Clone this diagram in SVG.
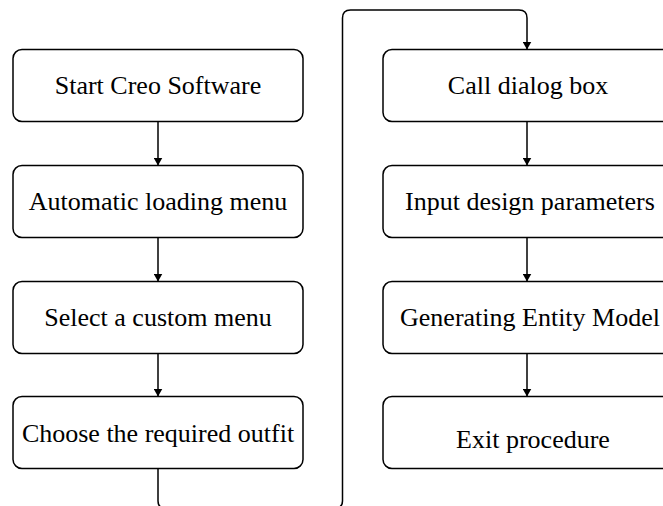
<svg xmlns="http://www.w3.org/2000/svg" width="663" height="506" viewBox="0 0 663 506">
  <style>
    .box { fill: #ffffff; stroke: #000000; stroke-width: 1.5; }
    .label { font-family: "Liberation Serif", "Times New Roman", serif; font-size: 26px; fill: #000000; text-anchor: middle; }
    .edge { fill: none; stroke: #000000; stroke-width: 1.5; }
  </style>
  <defs>
    <marker id="arrow" viewBox="0 0 8 9" refX="8" refY="4.5" markerWidth="8" markerHeight="9" markerUnits="userSpaceOnUse" orient="auto">
      <path d="M0,0 L8,4.5 L0,9 Z" fill="#000000"/>
    </marker>
  </defs>
  <rect width="663" height="506" fill="#ffffff"/>

  <!-- left column -->
  <g id="start">
    <rect class="box" x="13" y="49.5" width="290" height="72" rx="9"/>
    <text class="label" x="158" y="93.5">Start Creo Software</text>
  </g>
  <g id="autoload">
    <rect class="box" x="13" y="165.5" width="290" height="72" rx="9"/>
    <text class="label" x="158" y="209.5">Automatic loading menu</text>
  </g>
  <g id="custom-menu">
    <rect class="box" x="13" y="281.5" width="290" height="72" rx="9"/>
    <text class="label" x="158" y="325.5">Select a custom menu</text>
  </g>
  <g id="outfit">
    <rect class="box" x="13" y="396.5" width="290" height="72" rx="9"/>
    <text class="label" x="158" y="441.5">Choose the required outfit</text>
  </g>

  <!-- right column -->
  <g id="dialog">
    <rect class="box" x="383" y="49.5" width="290" height="72" rx="9"/>
    <text class="label" x="528" y="93.5">Call dialog box</text>
  </g>
  <g id="params">
    <rect class="box" x="383" y="165.5" width="290" height="72" rx="9"/>
    <text class="label" x="530" y="209.5">Input design parameters</text>
  </g>
  <g id="model">
    <rect class="box" x="383" y="281.5" width="290" height="72" rx="9"/>
    <text class="label" x="530" y="325.5">Generating Entity Model</text>
  </g>
  <g id="exit">
    <rect class="box" x="383" y="396.5" width="290" height="72" rx="9"/>
    <text class="label" x="533" y="447.5">Exit procedure</text>
  </g>

  <!-- connectors -->
  <g id="connectors">
    <line class="edge" x1="158" y1="121.5" x2="158" y2="165.5" marker-end="url(#arrow)"/>
    <line class="edge" x1="158" y1="237.5" x2="158" y2="281.5" marker-end="url(#arrow)"/>
    <line class="edge" x1="158" y1="353.5" x2="158" y2="396.5" marker-end="url(#arrow)"/>
    <path class="edge" d="M158,468.5 V501 Q158,508 165,508 H335 Q342.5,508 342.5,501 V18 Q342.5,10 350.5,10 H519 Q527,10 527,18 V49.5" marker-end="url(#arrow)"/>
    <line class="edge" x1="527" y1="121.5" x2="527" y2="165.5" marker-end="url(#arrow)"/>
    <line class="edge" x1="527" y1="237.5" x2="527" y2="281.5" marker-end="url(#arrow)"/>
    <line class="edge" x1="527" y1="353.5" x2="527" y2="396.5" marker-end="url(#arrow)"/>
  </g>
</svg>
